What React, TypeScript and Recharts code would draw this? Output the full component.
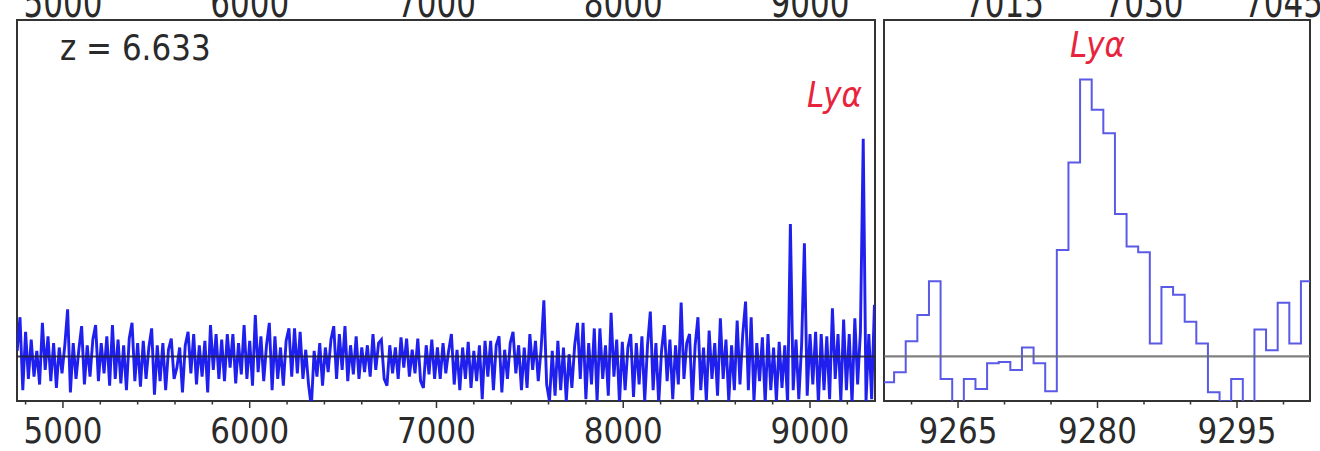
import React from "react";
import {
  LineChart,
  Line,
  XAxis,
  YAxis,
  ReferenceLine,
  ReferenceArea,
  ReferenceDot,
} from "recharts";

// --- Data ---

// full spectrum, sampled every 15 Å from 4755 Å (flux in arbitrary units)
const SPEC_START = 4755;
const SPEC_STEP = 15;
const flux4755 = [
  0.05, 0.35, -0.3, 0.22, -0.2, 0.15, -0.18, 0.05, -0.25, 0.3,
  -0.12, 0.18, -0.22, 0.12, -0.28, 0.08, -0.15, 0.1, 0.42, -0.32,
  0.12, -0.2, 0.06, 0.27, -0.25, 0.1, -0.18, 0.15, 0.28, -0.22,
  0.12, -0.15, 0.18, -0.26, 0.28, -0.2, 0.15, -0.24, 0.1, -0.3,
  0.16, 0.3, -0.22, 0.12, -0.27, 0.14, -0.2, 0.08, 0.25, -0.34,
];
const flux5505 = [
  0.1, -0.22, 0.12, -0.3, 0.06, 0.16, -0.2, -0.1, 0.08, -0.32,
  0.1, 0.22, -0.15, 0.2, -0.25, 0.1, -0.18, 0.14, -0.32, 0.28,
  -0.12, 0.2, -0.2, 0.15, -0.22, 0.2, -0.1, 0.2, -0.24, 0.12,
  -0.16, 0.28, -0.2, 0.14, -0.26, 0.37, -0.14, 0.18, -0.22, 0.1,
  0.3, -0.3, 0.18, -0.2, 0.08, -0.26, 0.14, 0.25, -0.18, 0.25,
];
const flux6255 = [
  -0.15, 0.22, -0.2, 0.06, -0.25, -0.45, 0.05, -0.18, 0.12, -0.26,
  0.08, -0.14, 0.15, 0.27, -0.2, 0.2, -0.12, 0.27, -0.22, 0.1,
  -0.16, 0.18, -0.2, 0.08, -0.14, 0.1, -0.18, 0.2, -0.12, 0.12,
  0.15, -0.2, -0.26, 0.1, -0.15, 0.08, -0.2, 0.17, -0.1, 0.16,
  -0.18, 0.06, -0.15, 0.16, -0.22, -0.28, 0.1, -0.16, 0.15, -0.2,
];
const flux7005 = [
  0.08, -0.2, 0.12, -0.15, 0.05, 0.2, -0.25, 0.06, -0.3, 0.08,
  -0.2, 0.13, -0.28, 0.05, -0.22, 0.1, -0.38, 0.14, -0.18, 0.14,
  -0.3, 0.1, 0.18, -0.32, 0.06, -0.2, 0.12, 0.22, -0.15, 0.1,
  -0.3, 0.08, -0.28, 0.2, -0.12, 0.14, -0.22, 0.06, 0.5, -0.25,
  -0.4, 0.05, -0.35, 0.14, -0.3, 0.08, -0.4, 0.02, -0.28, 0.1,
];
const flux7755 = [
  0.3, -0.2, 0.3, -0.38, 0.12, -0.25, 0.25, -0.4, 0.25, -0.2,
  0.1, -0.35, 0.39, -0.18, 0.15, -0.42, 0.13, -0.3, 0.08, 0.2,
  -0.36, 0.12, -0.25, 0.18, -0.4, 0.1, 0.4, -0.3, 0.12, -0.42,
  0.05, 0.28, -0.22, 0.15, -0.38, 0.1, -0.25, 0.48, -0.2, 0.12,
  0.2, -0.42, 0.1, 0.35, -0.3, 0.08, -0.4, 0.23, -0.2, 0.12,
];
const flux8505 = [
  -0.35, 0.34, -0.2, 0.15, -0.4, 0.1, -0.3, 0.32, -0.25, 0.2,
  0.49, -0.3, 0.35, -0.4, 0.12, -0.22, 0.17, -0.42, 0.2, -0.3,
  0.08, -0.4, 0.13, -0.28, 0.1, -0.42, 1.18, -0.3, 0.15, -0.38,
  0.1, 1.01, -0.35, 0.2, -0.25, 0.22, -0.42, 0.2, -0.3, 0.18,
  -0.38, 0.43, -0.2, 0.2, -0.4, 0.33, -0.3, 0.2, -0.42, 0.34,
  -0.25, 0.22, 1.94, -0.4, 0.2, -0.38, 0.46,
];

// zoom on the line: 1.25 Å bins, first bin starts at 9256.875 Å
const ZOOM_EDGE0 = 9256.875;
const ZOOM_BIN = 1.25;
const zoomFlux = [
  -0.23, -0.14, 0.135, 0.37, 0.67, -0.2, -0.45, -0.2, -0.29, -0.06,
  -0.05, -0.12, 0.08, -0.06, -0.31, 0.95, 1.73, 2.47, 2.2, 1.99,
  1.27, 0.98, 0.93, 0.115, 0.62, 0.55, 0.31, 0.115, -0.32, -0.4,
  -0.2, -0.5, 0.24, 0.055, 0.48, 0.115, 0.67,
];

// axes
const WIDE_DOMAIN: [number, number] = [4754, 9348];
const ZOOM_DOMAIN: [number, number] = [9257.04, 9302.85];
const Y_DOMAIN: [number, number] = [-0.397, 3];
const yTicks = [0, 1, 2, 3];
const wideTicks = [
  4800, 5000, 5200, 5400, 5600, 5800, 6000, 6200, 6400, 6600, 6800, 7000,
  7200, 7400, 7600, 7800, 8000, 8200, 8400, 8600, 8800, 9000, 9200,
];
const wideLabels = [5000, 6000, 7000, 8000, 9000];
const zoomTicks = [9260, 9265, 9270, 9275, 9280, 9285, 9290, 9295, 9300];
const zoomLabels = [9265, 9280, 9295];
// secondary scale on top of the zoom panel
const TOP_SHIFT = 2255;
const zoomTopLabels = [7015, 7030, 7045];

const REDSHIFT_TEXT = "z = 6.633";
const LINE_NAME = "Lyα";
const LINE_WAVE = 9280;

// --- Styles ---

const FONT = "'DejaVu Sans', sans-serif";
const AXIS = "#333";
const TEXT = "#2a2a2a";
const RED = "#e8243c";
const TEXT_SY = 1.12;
const TOP_SY = 1.35;
const FS = 31;

const wideData = [...flux4755, ...flux5505, ...flux6255, ...flux7005, ...flux7755, ...flux8505].map(
  (f, i) => ({ w: SPEC_START + i * SPEC_STEP, f })
);
const zoomData = [
  ...zoomFlux.map((f, i) => ({ w: ZOOM_EDGE0 + i * ZOOM_BIN, f })),
  { w: ZOOM_EDGE0 + zoomFlux.length * ZOOM_BIN, f: zoomFlux[zoomFlux.length - 1] },
];

// --- Text helpers ---

function StretchText({
  x,
  y,
  children,
  fill = TEXT,
  anchor = "middle",
  italic = false,
  size = FS,
  sy = TEXT_SY,
}: {
  x: number;
  y: number;
  children: React.ReactNode;
  fill?: string;
  anchor?: "start" | "middle" | "end";
  italic?: boolean;
  size?: number;
  sy?: number;
}) {
  return (
    <g transform={`translate(${x},${y}) scale(1,${sy})`}>
      <text
        x={0}
        y={0}
        textAnchor={anchor}
        fontFamily={FONT}
        fontSize={size}
        fontStyle={italic ? "italic" : "normal"}
        fill={fill}
      >
        {children}
      </text>
    </g>
  );
}

const bottomTick = (majors: number[]) => (props: any) => {
  const { x, y, payload } = props;
  const major = majors.includes(payload.value);
  return (
    <g>
      <line x1={x} x2={x} y1={y} y2={y + (major ? 7 : 3.5)} stroke={AXIS} strokeWidth={1.5} />
      {major && <StretchText x={x} y={y + 42}>{payload.value}</StretchText>}
    </g>
  );
};

// top labels sit against the page edge and are partly cut, as in the original figure
const topTick = (props: any) => {
  const { x, y, payload } = props;
  return (
    <StretchText x={x} y={y - 3} sy={TOP_SY}>
      {payload.value}
    </StretchText>
  );
};

const labelShape = (text: string, color: string, italic: boolean, anchor: "start" | "middle") =>
  (p: any) => (
    <StretchText x={p.cx} y={p.cy} fill={color} italic={italic} anchor={anchor}>
      {text}
    </StretchText>
  );

// --- Panels ---

function WidePanel() {
  return (
    <LineChart width={880} height={451} data={wideData} margin={{ top: 0, right: 5, bottom: 0, left: 0 }}>
      <XAxis
        xAxisId="b"
        dataKey="w"
        type="number"
        domain={WIDE_DOMAIN}
        allowDataOverflow
        ticks={wideTicks}
        interval={0}
        tickSize={0}
        tickMargin={0}
        axisLine={false}
        tickLine={false}
        tick={bottomTick(wideLabels)}
        height={50}
      />
      <XAxis
        xAxisId="t"
        orientation="top"
        dataKey="w"
        type="number"
        domain={WIDE_DOMAIN}
        allowDataOverflow
        ticks={wideLabels}
        interval={0}
        tickSize={0}
        tickMargin={0}
        axisLine={false}
        tickLine={false}
        tick={topTick}
        height={20}
      />
      <YAxis
        type="number"
        domain={Y_DOMAIN}
        allowDataOverflow
        ticks={yTicks}
        tick={false}
        tickSize={8}
        tickLine={{ stroke: AXIS, strokeWidth: 1.5 }}
        axisLine={false}
        width={17}
      />
      <Line
        xAxisId="b"
        dataKey="f"
        type="linear"
        stroke="#2020ee"
        strokeWidth={2.9}
        dot={false}
        isAnimationActive={false}
      />
      <ReferenceLine xAxisId="b" y={0} stroke="#1e1e3a" strokeWidth={2} strokeOpacity={0.85} />
      <ReferenceArea
        xAxisId="b"
        x1={WIDE_DOMAIN[0]}
        x2={WIDE_DOMAIN[1]}
        y1={Y_DOMAIN[0]}
        y2={Y_DOMAIN[1]}
        fill="none"
        stroke={AXIS}
        strokeWidth={2}
        ifOverflow="visible"
      />
      <ReferenceDot
        xAxisId="b"
        x={4984}
        y={2.64}
        r={0}
        ifOverflow="visible"
        shape={labelShape(REDSHIFT_TEXT, TEXT, false, "start")}
      />
      <ReferenceDot
        xAxisId="b"
        x={8984}
        y={2.22}
        r={0}
        ifOverflow="visible"
        shape={labelShape(LINE_NAME, RED, true, "start")}
      />
    </LineChart>
  );
}

function ZoomPanel() {
  const topDomain: [number, number] = [ZOOM_DOMAIN[0] - TOP_SHIFT, ZOOM_DOMAIN[1] - TOP_SHIFT];
  return (
    <LineChart width={454} height={451} data={zoomData} margin={{ top: 0, right: 10, bottom: 0, left: 0 }}>
      <XAxis
        xAxisId="b"
        dataKey="w"
        type="number"
        domain={ZOOM_DOMAIN}
        allowDataOverflow
        ticks={zoomTicks}
        interval={0}
        tickSize={0}
        tickMargin={0}
        axisLine={false}
        tickLine={false}
        tick={bottomTick(zoomLabels)}
        height={50}
      />
      <XAxis
        xAxisId="t"
        orientation="top"
        dataKey="w"
        type="number"
        domain={topDomain}
        allowDataOverflow
        ticks={zoomTopLabels}
        interval={0}
        tickSize={0}
        tickMargin={0}
        axisLine={false}
        tickLine={false}
        tick={topTick}
        height={20}
      />
      <YAxis
        type="number"
        domain={Y_DOMAIN}
        allowDataOverflow
        ticks={yTicks}
        tick={false}
        tickSize={8}
        tickLine={{ stroke: AXIS, strokeWidth: 1.5 }}
        axisLine={false}
        width={18}
      />
      <Line
        xAxisId="b"
        dataKey="f"
        type="stepAfter"
        stroke="#5a5ae6"
        strokeWidth={2}
        dot={false}
        isAnimationActive={false}
      />
      <ReferenceLine xAxisId="b" y={0} stroke="#6a6a6a" strokeWidth={2.2} strokeOpacity={0.85} />
      <ReferenceArea
        xAxisId="b"
        x1={ZOOM_DOMAIN[0]}
        x2={ZOOM_DOMAIN[1]}
        y1={Y_DOMAIN[0]}
        y2={Y_DOMAIN[1]}
        fill="none"
        stroke={AXIS}
        strokeWidth={2}
        ifOverflow="visible"
      />
      <ReferenceDot
        xAxisId="b"
        x={LINE_WAVE}
        y={2.67}
        r={0}
        ifOverflow="visible"
        shape={labelShape(LINE_NAME, RED, true, "middle")}
      />
    </LineChart>
  );
}

export default function App() {
  return (
    <div style={{ position: "absolute", left: 0, top: 0, width: 1320, height: 451, background: "#fff" }}>
      <div style={{ position: "absolute", left: 0, top: 0 }}>
        <WidePanel />
      </div>
      <div style={{ position: "absolute", left: 866, top: 0 }}>
        <ZoomPanel />
      </div>
    </div>
  );
}
